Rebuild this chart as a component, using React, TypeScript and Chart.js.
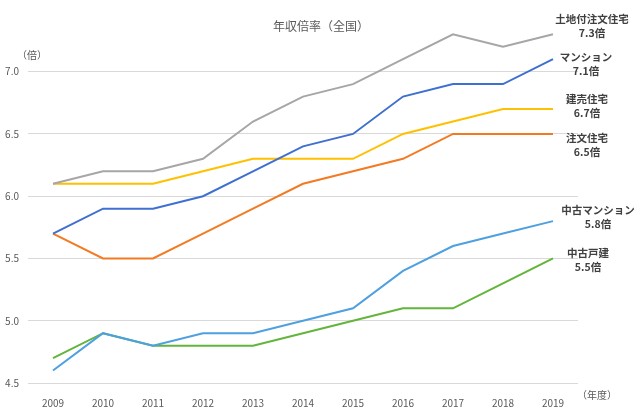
import React, { useEffect, useRef } from "react";
import { Chart, registerables } from "chart.js";

Chart.register(...registerables);

const years = ["2009", "2010", "2011", "2012", "2013", "2014", "2015", "2016", "2017", "2018", "2019"];
const seriesNames = ["土地付注文住宅", "マンション", "建売住宅", "注文住宅", "中古マンション", "中古戸建"];
const landCustom = [6.1, 6.2, 6.2, 6.3, 6.6, 6.8, 6.9, 7.1, 7.3, 7.2, 7.3];
const condo = [5.7, 5.9, 5.9, 6.0, 6.2, 6.4, 6.5, 6.8, 6.9, 6.9, 7.1];
const readyBuilt = [6.1, 6.1, 6.1, 6.2, 6.3, 6.3, 6.3, 6.5, 6.6, 6.7, 6.7];
const customHouse = [5.7, 5.5, 5.5, 5.7, 5.9, 6.1, 6.2, 6.3, 6.5, 6.5, 6.5];
const usedCondo = [4.6, 4.9, 4.8, 4.9, 4.9, 5.0, 5.1, 5.4, 5.6, 5.7, 5.8];
const usedHouse = [4.7, 4.9, 4.8, 4.8, 4.8, 4.9, 5.0, 5.1, 5.1, 5.3, 5.5];
const yTicks = [4.5, 5.0, 5.5, 6.0, 6.5, 7.0];

const title = "年収倍率（全国）";
const yUnit = "（倍）";
const xUnit = "（年度）";

const colors = ["#a6a6a6", "#3f6fd0", "#ffc000", "#f47a22", "#4ea0e0", "#62b53a"];
// label offsets relative to the last point: [dx, dy of first line]
const labelOffsets: [number, number][] = [
  [39, -15],
  [33, -2],
  [34, -10],
  [34, 4],
  [45, -11],
  [35, -5],
];

const FONT = "'Noto Sans CJK JP', 'Noto Sans', sans-serif";

export default function App() {
  const ref = useRef<HTMLCanvasElement>(null);
  useEffect(() => {
    document.body.style.margin = "0";
    const values = [landCustom, condo, readyBuilt, customHouse, usedCondo, usedHouse];
    const overlay = {
      id: "overlay",
      afterDraw(chart: any) {
        const ctx = chart.ctx;
        const xs = chart.scales.x;
        const ys = chart.scales.y;
        ctx.save();
        ctx.textAlign = "center";
        ctx.textBaseline = "middle";
        ctx.fillStyle = "#595959";
        ctx.font = `12px ${FONT}`;
        ctx.fillText(title, 321, 26);
        ctx.font = `10px ${FONT}`;
        ctx.fillText(yUnit, 32, 55);
        ctx.fillText(xUnit, 597, 395);
        ctx.fillStyle = "#404040";
        ctx.font = `bold 10.5px ${FONT}`;
        values.forEach((vals, i) => {
          const last = vals.length - 1;
          const px = xs.getPixelForValue(last);
          const py = ys.getPixelForValue(vals[last]);
          const [dx, dy] = labelOffsets[i];
          ctx.fillText(seriesNames[i], px + dx, py + dy);
          ctx.fillText(`${vals[last].toFixed(1)}倍`, px + dx, py + dy + 14);
        });
        ctx.restore();
      },
    };
    const chart = new Chart(ref.current!, {
      type: "line",
      data: {
        labels: years,
        datasets: values.map((v, i) => ({
          label: seriesNames[i],
          data: v,
          borderColor: colors[i],
          backgroundColor: colors[i],
          borderWidth: 2,
          pointRadius: 0,
          tension: 0,
          fill: false,
        })),
      },
      options: {
        responsive: false,
        animation: false,
        layout: { padding: { top: 9.4, right: 62, bottom: 0, left: 0 } },
        plugins: { legend: { display: false }, tooltip: { enabled: false }, title: { display: false } },
        scales: {
          x: {
            offset: true,
            grid: { display: false },
            border: { display: false },
            ticks: { color: "#595959", font: { size: 10, family: FONT }, padding: 6, maxRotation: 0 },
            afterFit(scale: any) {
              scale.height = 28;
              scale.paddingLeft = 0;
              scale.paddingRight = 0;
            },
          },
          y: {
            min: 4.5,
            max: 7.5,
            grid: { color: "#d9d9d9", lineWidth: 1, drawTicks: false },
            border: { display: false },
            ticks: {
              color: "#595959",
              font: { size: 10, family: FONT },
              padding: 9,
              callback: (v: any) => Number(v).toFixed(1),
            },
            afterBuildTicks(scale: any) {
              scale.ticks = yTicks.map((v) => ({ value: v }));
            },
            afterFit(scale: any) {
              scale.width = 28;
              scale.paddingTop = 0;
              scale.paddingBottom = 0;
            },
          },
        },
      },
      plugins: [overlay],
    });
    return () => chart.destroy();
  }, []);
  return <canvas ref={ref} width={640} height={411} style={{ display: "block" }} />;
}
